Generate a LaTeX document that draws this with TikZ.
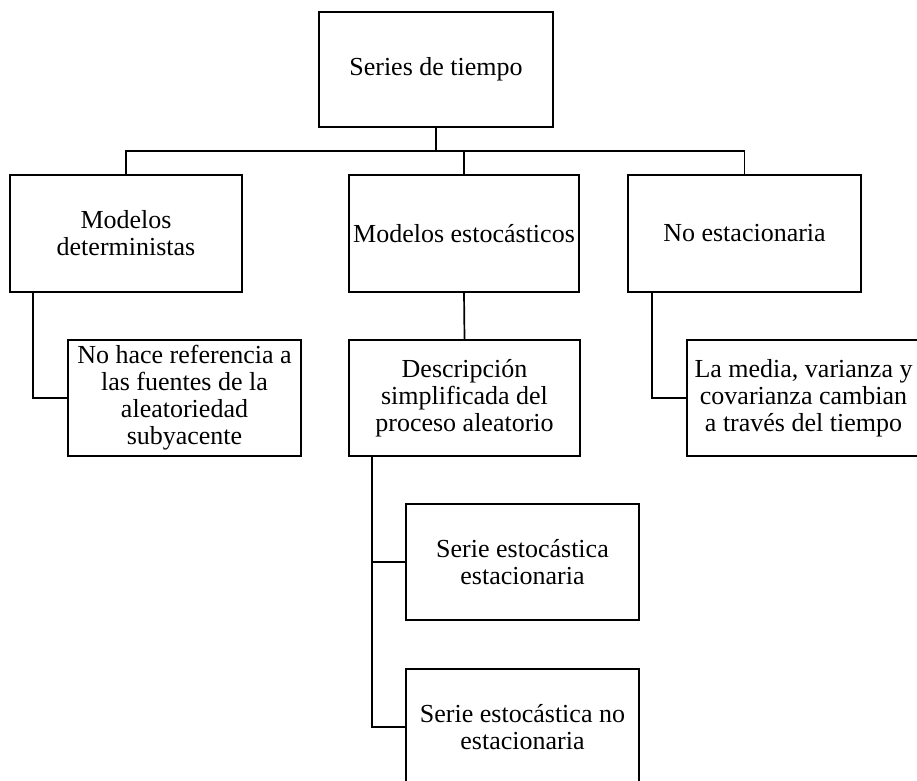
\documentclass[tikz,border=0pt]{standalone}
\usepackage{fontspec}
\setmainfont{Liberation Serif}
\begin{document}
\begin{tikzpicture}[x=1pt,y=-1pt,
  box/.style={draw, line width=1.7pt, rectangle, inner sep=0pt, align=center,
    minimum width=233pt, minimum height=116pt,
    font=\fontsize{26}{27}\selectfont},
  link/.style={line width=1.7pt}]
\clip (0,0) rectangle (917,780);
\fill[white] (0,0) rectangle (917,780);
\node[box, minimum width=234pt, minimum height=115pt] (top) at (436,69.5) {Series de tiempo};
\node[box, minimum width=232pt, minimum height=117pt] (L1) at (126,233.5) {Modelos\\deterministas};
\node[box, minimum width=230pt, minimum height=117pt] (M1) at (464,233.5) {Modelos estocásticos};
\node[box, minimum height=117pt] (R1) at (744.5,233.5) {No estacionaria};
\node[box] (LC) at (184.5,398) {No hace referencia a\\las fuentes de la\\aleatoriedad\\subyacente};
\node[box, minimum width=231pt] (MC) at (464.5,398) {Descripción\\simplificada del\\proceso aleatorio};
\node[box] (RC) at (803.5,398) {La media, varianza y\\covarianza cambian\\a través del tiempo};
\node[box] (S1) at (522.5,562) {Serie estocástica\\estacionaria};
\node[box] (S2) at (522.5,727) {Serie estocástica no\\estacionaria};
\coordinate (bus) at (0,151);
\coordinate (lx) at (33,0);
\coordinate (rx) at (652,0);
\coordinate (sx) at (372,0);
\draw[link] (top.south) -- (top.south |- bus);
\draw[link] (L1.north) -- (L1.north |- bus) -- (R1.north |- bus) -- (R1.north);
\draw[link] (M1.north) -- (M1.north |- bus);
\draw[link] (L1.south -| lx) |- (LC.west);
\draw[link] (R1.south -| rx) |- (RC.west);
\draw[link] (M1.south) -- (MC.north);
\draw[link] (MC.south -| sx) |- (S1.west);
\draw[link] (MC.south -| sx) |- (S2.west);
\end{tikzpicture}
\end{document}
